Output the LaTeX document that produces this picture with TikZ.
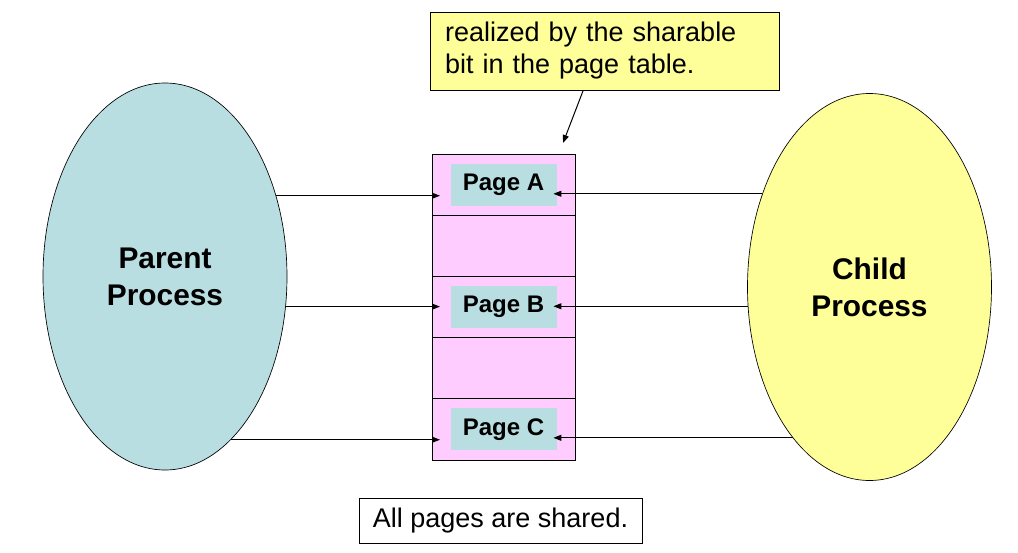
\documentclass[tikz,border=0pt]{standalone}
\usepackage{fontspec}
\setmainfont{Liberation Sans}
\usetikzlibrary{positioning,shapes.geometric,arrows.meta}
\definecolor{procblue}{RGB}{184,222,226}
\definecolor{noteyellow}{RGB}{255,255,153}
\definecolor{tablepink}{RGB}{255,204,255}

\begin{document}
\begin{tikzpicture}[x=0.75pt,y=-0.75pt,
	proc/.style={ellipse,draw,line width=0.5pt,inner sep=0pt,minimum width=183pt,minimum height=290.25pt,align=center,font=\fontsize{22.4}{27.75}\selectfont\bfseries},
	row/.style={rectangle,draw,fill=tablepink,line width=0.75pt,outer sep=0pt,minimum width=107.25pt,minimum height=45.9pt},
	page/.style={rectangle,fill=procblue,inner sep=0pt,minimum width=79.5pt,minimum height=31.5pt,font=\fontsize{18}{21}\selectfont\bfseries},
	box/.style={rectangle,draw,line width=0.75pt,inner sep=0pt,font=\fontsize{20.25}{24}\selectfont},
	link/.style={-{Triangle[length=6pt,width=4.5pt]},line width=0.75pt}]
		\useasboundingbox (0,0) rectangle (1018,553);

		\node[proc,fill=procblue]								(parent)	at (165,276.5)	{Parent\\Process};
		\node[proc,fill=noteyellow]								(child)		at (869.5,287)	{Child\\Process};

		\node[row]												(r1)		at (503.5,184.6)	{};
		\node[row,below=0pt of r1]								(r2)		{};
		\node[row,below=0pt of r2]								(r3)		{};
		\node[row,below=0pt of r3]								(r4)		{};
		\node[row,below=0pt of r4]								(r5)		{};

		\node[page]												(pA)		at (r1)	{Page A};
		\node[page]												(pB)		at (r3)	{Page B};
		\node[page]												(pC)		at (r5)	{Page C};

		\node[box,fill=noteyellow,align=left,text width=239pt,minimum width=261.75pt,minimum height=58.5pt]	(remark)	at (604.5,51)	{realized by the sharable\\bit in the page table.};
		\node[box,fill=white,minimum width=212.25pt,minimum height=33.75pt]	(shared)	at (500.5,520.5)	{All pages are shared.};

		\draw[link] ([xshift=-16pt]remark.south) -- ([xshift=-9pt,yshift=8.25pt]r1.north east);

		\draw[link] (parent.36.4) -- ([xshift=6pt]parent.36.4 -| r1.west);
		\draw[link] (parent.-14.7) -- ([xshift=6pt]parent.-14.7 -| r3.west);
		\draw[link] (parent.-68.3) -- ([xshift=6pt]parent.-68.3 -| r5.west);
		\draw[link] (child.139.5) -- ([xshift=-2.5pt]child.139.5 -| pA.east);
		\draw[link] (child.189.8) -- ([xshift=-2.5pt]child.189.8 -| pB.east);
		\draw[link] (child.243.8) -- ([xshift=-2.5pt]child.243.8 -| pC.east);
	\end{tikzpicture}
\end{document}
